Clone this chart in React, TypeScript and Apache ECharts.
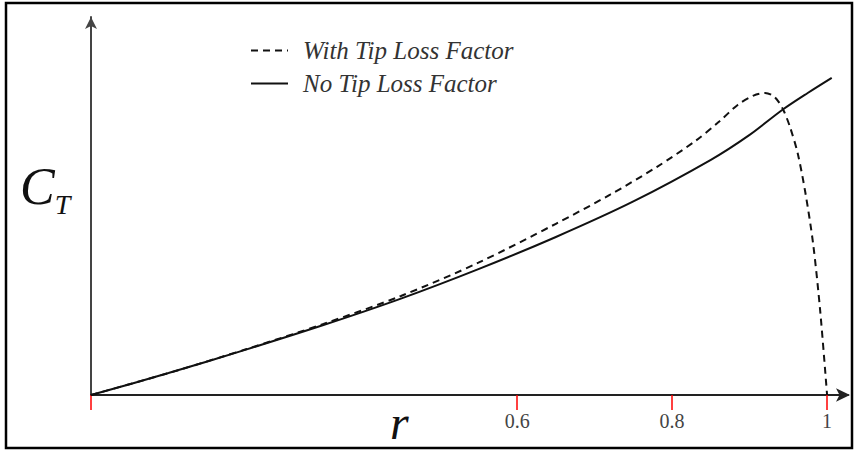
import React, { useEffect, useRef } from "react";
import * as echarts from "echarts";

// r (radial position) values and thrust coefficient (arbitrary units)
const rWith = [0.05, 0.15, 0.25, 0.35, 0.45, 0.55, 0.65, 0.72, 0.78, 0.83, 0.86, 0.885, 0.905, 0.92, 0.93, 0.937, 0.944, 0.952, 0.962, 0.972, 0.982, 0.991, 1.0];
const ctWith = [0, 0.058, 0.121, 0.188, 0.262, 0.35, 0.453, 0.53, 0.603, 0.672, 0.722, 0.768, 0.792, 0.799, 0.792, 0.777, 0.752, 0.71, 0.64, 0.535, 0.4, 0.225, 0];
const rNo = [0.05, 0.15, 0.25, 0.35, 0.45, 0.55, 0.65, 0.75, 0.85, 0.9, 0.942, 0.975, 1.006];
const ctNo = [0, 0.058, 0.12, 0.185, 0.255, 0.333, 0.418, 0.512, 0.622, 0.688, 0.754, 0.799, 0.839];
const tickValues = [0.05, 0.6, 0.8, 1];
const labelValues = [0.6, 0.8, 1];
const seriesNames = ["With Tip Loss Factor", "No Tip Loss Factor"];

const SERIF = "Liberation Serif";

export default function App() {
  const ref = useRef<HTMLDivElement>(null);
  useEffect(() => {
    if (!ref.current) return;
    const chart = echarts.init(ref.current, null, { renderer: "svg" });
    chart.setOption({
      animation: false,
      backgroundColor: "#fff",
      grid: { left: 91, right: 10, top: 17, bottom: 55 },
      legend: {
        data: seriesNames,
        orient: "vertical",
        left: 245,
        top: 33,
        itemWidth: 37,
        itemHeight: 10,
        itemGap: 8,
        itemStyle: { opacity: 0 },
        textStyle: { fontFamily: SERIF, fontStyle: "italic", fontSize: 25, color: "#333", padding: [0, 0, 0, 10] },
      },
      xAxis: {
        type: "value",
        min: 0.05,
        max: 1.027,
        splitLine: { show: false },
        axisLine: {
          show: true,
          symbol: ["none", "arrow"],
          symbolSize: [10, 14],
          symbolOffset: [0, 2],
          lineStyle: { color: "#222", width: 2 },
        },
        axisTick: {
          show: true,
          customValues: tickValues,
          length: 15,
          lineStyle: { color: "#ff0000", width: 1.5 },
        },
        axisLabel: {
          customValues: labelValues,
          margin: 16,
          fontFamily: SERIF,
          fontSize: 20,
          color: "#444",
          formatter: (v: number) => String(v),
        },
      },
      yAxis: {
        type: "value",
        min: 0,
        max: 1,
        splitLine: { show: false },
        axisTick: { show: false },
        axisLabel: { show: false },
        axisLine: {
          show: true,
          symbol: ["none", "arrow"],
          symbolSize: [9, 12],
          lineStyle: { color: "#444", width: 2 },
        },
      },
      series: [
        {
          name: seriesNames[0],
          type: "line",
          data: rWith.map((r, i) => [r, ctWith[i]]),
          showSymbol: false,
          symbol: "none",
          smooth: 0.3,
          lineStyle: { color: "#111", width: 2, type: [7, 5] },
          itemStyle: { color: "#111" },
        },
        {
          name: seriesNames[1],
          type: "line",
          data: rNo.map((r, i) => [r, ctNo[i]]),
          showSymbol: false,
          symbol: "none",
          smooth: 0.3,
          lineStyle: { color: "#111", width: 2, type: "solid" },
          itemStyle: { color: "#111" },
        },
      ],
      graphic: [
        {
          type: "rect",
          shape: { x: 6, y: 3, width: 846, height: 445 },
          style: { fill: "none", stroke: "#000", lineWidth: 2.5 },
          silent: true,
        },
        {
          type: "text",
          left: 390,
          top: 398,
          style: { text: "r", fontFamily: SERIF, fontStyle: "italic", fontSize: 48, fill: "#111" },
        },
        {
          type: "text",
          left: 20,
          top: 160,
          style: {
            text: "{c|C}{t|T}",
            rich: {
              c: { fontFamily: SERIF, fontStyle: "italic", fontSize: 52, lineHeight: 58, fill: "#111", verticalAlign: "top" },
              t: { fontFamily: SERIF, fontStyle: "italic", fontSize: 28, lineHeight: 28, padding: [30, 0, 0, 0], fill: "#111", verticalAlign: "top" },
            },
          },
        },
      ],
    });
    return () => chart.dispose();
  }, []);
  return (
    <div
      ref={ref}
      style={{ position: "fixed", left: 0, top: 0, width: 858, height: 450 }}
    />
  );
}
